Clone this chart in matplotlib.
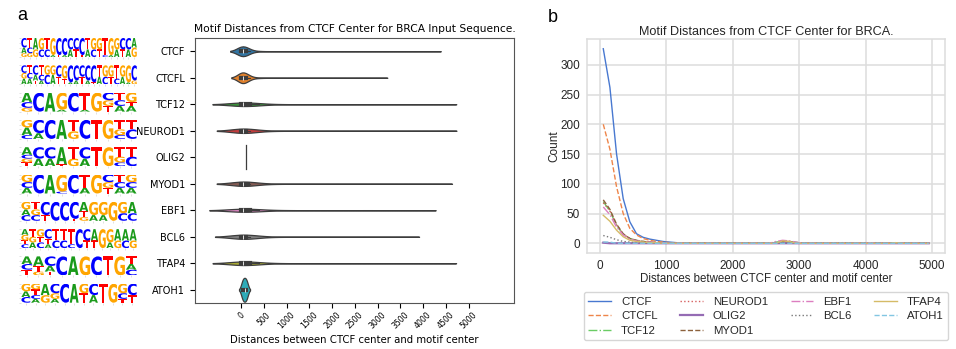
import numpy as np
import pandas as pd
import matplotlib
matplotlib.use("Agg")
import matplotlib.pyplot as plt
import seaborn as sns
from matplotlib.textpath import TextPath
from matplotlib.patches import PathPatch
from matplotlib.font_manager import FontProperties
from matplotlib.transforms import Affine2D

# ---------------- data ----------------
motifs = ["CTCF", "CTCFL", "TCF12", "NEUROD1", "OLIG2",
          "MYOD1", "EBF1", "BCL6", "TFAP4", "ATOH1"]

# ---- panel a: distances (value, how many sites at that distance) ----
va_ctcf_values = [0, 50, 100, 200, 400, 700, 1200, 2000, 2800, 3500, 4150]
va_ctcf_counts = [130, 120, 55, 25, 12, 6, 1, 1, 2, 1, 1]
va_ctcfl_values = [0, 50, 100, 200, 400, 700, 1200, 2000, 2800, 3000]
va_ctcfl_counts = [85, 80, 38, 18, 8, 4, 1, 1, 1, 1]
va_tcf12_values = [0, 50, 100, 200, 400, 700, 1200, 2000, 2800, 4100]
va_tcf12_counts = [22, 20, 14, 8, 5, 3, 2, 2, 3, 1]
va_neurod1_values = [0, 50, 100, 200, 400, 700, 1200, 2000, 2800, 4200]
va_neurod1_counts = [35, 20, 12, 8, 5, 3, 2, 1, 2, 1]
va_olig2_values = [100]
va_olig2_counts = [1]
va_myod1_values = [0, 50, 100, 200, 400, 700, 1200, 2000, 2800, 4100]
va_myod1_counts = [33, 20, 12, 8, 5, 3, 2, 1, 2, 1]
va_ebf1_values = [0, 50, 100, 200, 400, 700, 1200, 2000, 2800, 3580]
va_ebf1_counts = [24, 18, 12, 7, 4, 4, 3, 3, 5, 1]
va_bcl6_values = [0, 50, 100, 200, 400, 700, 1200, 3340]
va_bcl6_counts = [12, 10, 6, 3, 2, 1, 1, 1]
va_tfap4_values = [0, 50, 100, 200, 400, 700, 1200, 2000, 2800, 4100]
va_tfap4_counts = [25, 20, 12, 8, 5, 3, 2, 2, 3, 1]
va_atoh1_values = [25, 60, 95, 130]
va_atoh1_counts = [1, 1, 1, 1]

va_values = [va_ctcf_values, va_ctcfl_values, va_tcf12_values, va_neurod1_values,
             va_olig2_values, va_myod1_values, va_ebf1_values, va_bcl6_values,
             va_tfap4_values, va_atoh1_values]
va_counts = [va_ctcf_counts, va_ctcfl_counts, va_tcf12_counts, va_neurod1_counts,
             va_olig2_counts, va_myod1_counts, va_ebf1_counts, va_bcl6_counts,
             va_tfap4_counts, va_atoh1_counts]

# ---- panel b: counts per 100 bp bin ----
bin_centers = list(range(50, 5000, 100))

head_ctcf = [327, 262, 150, 75, 36, 16, 10, 7, 5, 3, 2, 1]
head_ctcfl = [200, 158, 95, 50, 25, 14, 8, 5, 3, 2, 1, 1]
head_tcf12 = [70, 54, 30, 15, 8, 5, 3, 2, 1, 1, 1, 0]
head_neurod1 = [68, 55, 31, 15, 8, 4, 3, 2, 1, 1, 0, 0]
head_olig2 = [1, 0, 0, 0, 0, 0, 0, 0, 0, 0, 0, 0]
head_myod1 = [73, 57, 32, 16, 8, 5, 3, 2, 1, 1, 0, 0]
head_ebf1 = [61, 48, 27, 14, 7, 4, 2, 2, 1, 1, 0, 0]
head_bcl6 = [13, 10, 6, 3, 2, 1, 1, 0, 0, 0, 0, 0]
head_tfap4 = [47, 37, 22, 11, 5, 3, 2, 1, 1, 0, 0, 0]
head_atoh1 = [2, 2, 0, 0, 0, 0, 0, 0, 0, 0, 0, 0]

tail_ctcf = {2650: 1, 2750: 2, 2850: 2, 2950: 1, 4150: 1}
tail_ctcfl = {2750: 2, 2850: 2, 2950: 1}
tail_tcf12 = {2650: 2, 2750: 3, 2850: 3, 2950: 2, 4450: 1}
tail_neurod1 = {2750: 3, 2850: 3, 2950: 1, 4450: 1}
tail_olig2 = {}
tail_myod1 = {2750: 3, 2850: 3, 4350: 1}
tail_ebf1 = {2650: 3, 2750: 5, 2850: 4, 2950: 2, 4050: 1}
tail_bcl6 = {2750: 1, 3650: 1}
tail_tfap4 = {2750: 4, 2850: 3, 4450: 1}
tail_atoh1 = {}

heads = [head_ctcf, head_ctcfl, head_tcf12, head_neurod1, head_olig2,
         head_myod1, head_ebf1, head_bcl6, head_tfap4, head_atoh1]
tails = [tail_ctcf, tail_ctcfl, tail_tcf12, tail_neurod1, tail_olig2,
         tail_myod1, tail_ebf1, tail_bcl6, tail_tfap4, tail_atoh1]

# ---- sequence logos: one string per column, letters top->bottom with weights ----
logo_ctcf = ["C5A3G2", "T5C3G2", "A6G4", "G6C4", "T6C4", "G9A1", "C9T1", "C9A1",
             "C6A4", "C6T4", "C9T1", "T6A4", "G6C4", "G6T4", "T9C1", "G9A1",
             "G6A4", "C6T4", "C6A4", "A5G5"]
logo_ctcfl = ["C4G3A3", "T4C3A3", "C5A3T2", "T5C3A2", "G5C5", "G5A5", "C6T4",
              "G7T3", "C9A1", "C8A2", "C6T4", "C8A2", "C9T1", "T6A4", "G6C4",
              "G6T4", "T7C3", "G6A4", "G9A1", "C8G2"]
logo_tcf12 = ["A5C3G2", "C10", "A10", "G9A1", "C10", "T9A1", "G10",
              "C4G3T3", "T4C3A3", "G5T2A3"]
logo_neurod1 = ["G4A4C2", "C7A3", "C10", "A10", "T6G4", "C10", "T10", "G10",
                "T5G3C2", "T5C5"]
logo_olig2 = ["A4C2G2T2", "C6A4", "C6A4", "A9T1", "T6G4", "C6A4", "T10", "G10",
              "T5G3C2", "T5C5"]
logo_myod1 = ["G4C3A3", "C10", "A10", "G9C1", "C10", "T7A3", "G10",
              "C4G3T3", "T4C3A3", "G4C3A3"]
logo_ebf1 = ["G4A3C3", "T4G3C3", "C7T3", "C10", "C10", "C9T1", "A5T3G2",
             "G7A3", "G7A3", "G10", "G6C4", "A6C4"]
logo_bcl6 = ["A3G3T2C2", "T4G3A3", "G4T3C3", "C5T3A2", "T6C4", "T6C4", "T8C2",
             "C10", "C6T4", "A6T4", "G10", "G7A3", "A6G4", "A6C4", "A6G4"]
logo_tfap4 = ["A4C3T3", "A5T3G2", "C5A3T2", "C10", "A10", "G10", "C10", "T10",
              "G10", "T4A3C3"]
logo_atoh1 = ["G4A3C3", "G3T3C2A2", "A6G4", "C5G3A2", "C10", "A10", "G5T5",
              "C6A4", "T10", "G10", "G5C3T2", "C6T4"]
logos = [logo_ctcf, logo_ctcfl, logo_tcf12, logo_neurod1, logo_olig2,
         logo_myod1, logo_ebf1, logo_bcl6, logo_tfap4, logo_atoh1]

letter_colors = {"A": "#1a9a1a", "C": "#0000ff", "G": "#ffa500", "T": "#ff0000"}

line_colors = sns.color_palette("muted", 10)
line_styles = ["-", "--", "-.", ":", "-", "--", "-.", ":", "-", "--"]

# ------------- assemble -------------
counts = {}
for m, h, t in zip(motifs, heads, tails):
    c = [0] * len(bin_centers)
    for k, v in enumerate(h):
        c[k] = v
    for b, v in t.items():
        c[bin_centers.index(b)] = v
    counts[m] = c

rows = []
for m, vals, cnts in zip(motifs, va_values, va_counts):
    for v, n in zip(vals, cnts):
        rows += [(m, v)] * n
df = pd.DataFrame(rows, columns=["motif", "dist"])

W, H = 956, 349
fig = plt.figure(figsize=(W / 100, H / 100), dpi=100)


def fx(px):
    return px / W


def fy(px):
    return 1 - px / H


# ------------- logos -------------
fp = FontProperties(family="DejaVu Sans", weight="bold")
glyphs = {L: TextPath((0, 0), L, size=1, prop=fp) for L in "ACGT"}


def parse(col):
    out = []
    k = 0
    while k < len(col):
        L = col[k]
        k += 1
        num = ""
        while k < len(col) and col[k].isdigit():
            num += col[k]
            k += 1
        out.append((L, float(num)))
    return out


for i, (m, logo) in enumerate(zip(motifs, logos)):
    cy = 47.5 + i * 27.3
    hh = 19
    ax = fig.add_axes([fx(21), fy(cy + hh / 2), fx(116), hh / H])
    n = len(logo)
    ax.set_xlim(-0.5, n - 0.5)
    ax.set_ylim(0, 1)
    for j, col in enumerate(logo):
        items = parse(col)
        tot = sum(v for _, v in items)
        y0 = 0.0
        for L, v in reversed(items):
            hgt = v / tot
            tp = glyphs[L]
            bb = tp.get_extents()
            tr = (Affine2D().translate(-bb.x0, -bb.y0)
                  .scale(0.92 / bb.width, hgt / bb.height)
                  .translate(j - 0.46, y0))
            ax.add_patch(PathPatch(tr.transform_path(tp), fc=letter_colors[L],
                                   ec="none", lw=0))
            y0 += hgt
    for s in ax.spines.values():
        s.set_visible(False)
    ax.set_xticks(range(n))
    ax.set_yticks([0, 0.25, 0.5, 0.75, 1])
    ax.set_xticklabels([])
    ax.set_yticklabels([])
    ax.tick_params(length=1.5, width=0.4, color="#c8c8c8")

# ------------- violin panel -------------
axv = fig.add_axes([fx(195), fy(303), fx(514 - 195), (303 - 38) / H])
sns.violinplot(data=df, x="dist", y="motif", order=motifs, hue="motif",
               hue_order=motifs, palette="tab10", legend=False, ax=axv,
               inner="box", cut=2, linewidth=0.9, orient="h", width=0.9,
               density_norm="area", common_norm=True,
               inner_kws=dict(box_width=3, whis_width=0.8))
axv.set_xlim(-1010, 5995)
axv.set_xticks(range(0, 5001, 500))
axv.set_xticklabels([str(v) for v in range(0, 5001, 500)], rotation=45,
                    fontsize=5.6)
axv.tick_params(axis="y", labelsize=7, length=3.5, width=0.8)
axv.tick_params(axis="x", length=3.5, width=0.8, pad=2)
axv.set_ylabel("")
axv.set_xlabel("Distances between CTCF center and motif center", fontsize=7.3,
               labelpad=3)
axv.set_title("Motif Distances from CTCF Center for BRCA Input Sequence.",
              fontsize=7.7, pad=4)
for s in axv.spines.values():
    s.set_color("#555555")
    s.set_linewidth(0.8)

# ------------- line panel -------------
ff = "Liberation Sans"
tc = "#262626"
axb = fig.add_axes([fx(587), fy(253), fx(945 - 587), (253 - 39) / H])
for m, c, ls in zip(motifs, line_colors, line_styles):
    axb.plot(bin_centers, counts[m], color=c, ls=ls,
             lw=(1.6 if m == "OLIG2" else 1.0), label=m)
axb.set_xticks(range(0, 5001, 1000))
axb.set_yticks(range(0, 301, 50))
axb.grid(True, color="#dddddd", lw=1.1)
axb.set_axisbelow(True)
for s in axb.spines.values():
    s.set_color("#dddddd")
    s.set_linewidth(1.1)
axb.tick_params(length=0, labelsize=8.5, labelcolor=tc, pad=5)
for lab in axb.get_xticklabels() + axb.get_yticklabels():
    lab.set_fontfamily(ff)
axb.set_xlabel("Distances between CTCF center and motif center", fontsize=8.3,
               fontfamily=ff, color=tc, labelpad=1)
axb.set_ylabel("Count", fontsize=8.5, fontfamily=ff, color=tc, labelpad=0)
axb.set_title("Motif Distances from CTCF Center for BRCA.", fontsize=9.1,
              fontfamily=ff, color=tc, pad=3)
leg = axb.legend(loc="upper center", bbox_to_anchor=(0.5, -0.182), ncol=4,
                 prop={"family": ff, "size": 8.2}, frameon=True,
                 edgecolor="#cccccc", handlelength=2.0, handletextpad=0.85,
                 columnspacing=2.0, borderpad=0.4, labelspacing=0.4,
                 borderaxespad=0)
for t in leg.get_texts():
    t.set_color(tc)

fig.text(fx(17), fy(15), "a", fontsize=13, fontfamily=ff, va="center")
fig.text(fx(548), fy(17), "b", fontsize=13, fontfamily=ff, va="center")

fig.savefig("out.png", dpi=100)
